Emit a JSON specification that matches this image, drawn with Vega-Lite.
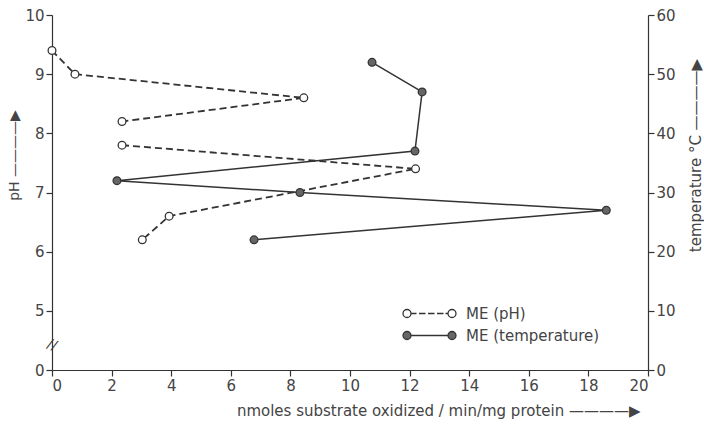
{
  "$schema": "https://vega.github.io/schema/vega-lite/v6.json",
  "width": 596,
  "height": 355,
  "autosize": {"type": "none"},
  "padding": {"left": 52, "top": 15, "right": 56, "bottom": 59},
  "background": "white",
  "config": {
    "view": {"stroke": null},
    "font": "DejaVu Sans",
    "axis": {
      "grid": false,
      "domainColor": "#333",
      "tickColor": "#333",
      "labelColor": "#444",
      "titleColor": "#444",
      "labelFontSize": 15,
      "titleFontSize": 14,
      "titleFontWeight": "normal",
      "tickSize": 6,
      "domainWidth": 1.2,
      "tickWidth": 1.2
    },
    "legend": {
      "orient": "none",
      "legendX": 370,
      "legendY": 291,
      "symbolSize": 100,
      "labelOffset": 29,
      "labelFontSize": 15,
      "labelColor": "#444",
      "symbolStrokeWidth": 1.3,
      "rowPadding": 6
    }
  },
  "datasets": {
    "ph": [
      {"x": 0, "ph": 9.4, "seg": "a"},
      {"x": 0.77, "ph": 9.0, "seg": "a"},
      {"x": 8.45, "ph": 8.6, "seg": "a"},
      {"x": 2.35, "ph": 8.2, "seg": "a"},
      {"x": 2.35, "ph": 7.8, "seg": "b"},
      {"x": 12.2, "ph": 7.4, "seg": "b"},
      {"x": 3.93, "ph": 6.6, "seg": "b"},
      {"x": 3.03, "ph": 6.2, "seg": "b"}
    ],
    "temp": [
      {"x": 10.74, "t": 52},
      {"x": 12.42, "t": 47},
      {"x": 12.18, "t": 37},
      {"x": 2.18, "t": 32},
      {"x": 8.32, "t": 30},
      {"x": 18.6, "t": 27},
      {"x": 6.78, "t": 22}
    ]
  },
  "encoding": {
    "x": {
      "field": "x",
      "type": "quantitative",
      "scale": {"domain": [0, 20], "nice": false},
      "axis": {
        "values": [0, 2, 4, 6, 8, 10, 12, 14, 16, 18, 20],
        "title": "nmoles substrate oxidized / min/mg protein   ————▶",
        "titleFontSize": 15,
        "titleX": 588,
        "titleAlign": "right",
        "titleAnchor": "end",
        "titlePadding": 10
      }
    }
  },
  "layer": [
    {
      "data": {"name": "ph"},
      "encoding": {
        "y": {
          "field": "ph",
          "type": "quantitative",
          "scale": {"domain": [4, 10], "nice": false, "zero": false},
          "axis": {
            "values": [4, 5, 6, 7, 8, 9, 10],
            "labelExpr": "datum.value == 4 ? '0' : datum.label",
            "title": "pH  ————▶",
            "titleY": 140,
            "titlePadding": 3
          }
        }
      },
      "layer": [
        {
          "mark": {"type": "line", "strokeDash": [7, 4], "strokeWidth": 1.8, "color": "#333"},
          "encoding": {
            "detail": {"field": "seg"},
            "order": {"field": "ph", "sort": "descending"}
          }
        },
        {
          "mark": {"type": "point", "filled": true, "fill": "white", "stroke": "#333", "strokeWidth": 1.3, "size": 60, "opacity": 1}
        },
        {
          "data": {"values": [{"x": 0, "ph": 4.42, "label": "//"}]},
          "mark": {"type": "text", "fontSize": 14, "color": "#333", "angle": 20},
          "encoding": {"text": {"field": "label"}}
        }
      ]
    },
    {
      "data": {"name": "temp"},
      "encoding": {
        "y": {
          "field": "t",
          "type": "quantitative",
          "scale": {"domain": [0, 60], "nice": false},
          "axis": {
            "orient": "right",
            "values": [0, 10, 20, 30, 40, 50, 60],
            "title": "temperature °C  ————▶",
            "titleFontSize": 15,
            "titleAngle": -90,
            "titleY": 140,
            "titlePadding": 28
          }
        }
      },
      "layer": [
        {
          "mark": {"type": "line", "strokeWidth": 1.5, "color": "#333"},
          "encoding": {"order": {"field": "t", "sort": "descending"}}
        },
        {
          "mark": {"type": "point", "filled": true, "fill": "#666", "stroke": "#333", "strokeWidth": 1.3, "size": 60, "opacity": 1}
        },
        {
          "transform": [{"filter": "datum.x < -100"}],
          "mark": {"type": "point", "strokeWidth": 1.3, "opacity": 1},
          "encoding": {
            "shape": {
              "field": "series",
              "type": "nominal",
              "scale": {
                "domain": ["ME (pH)", "ME (temperature)"],
                "range": [
                  "M -5.3 0 A 0.8 0.8 0 1 1 -3.7 0 A 0.8 0.8 0 1 1 -5.3 0 Z M -3.7 0 L -2.6 0 M -2.1 0 L -0.8 0 M -0.3 0 L 1.0 0 M 1.5 0 L 2.8 0 M 3.2 0 L 3.7 0 M 3.7 0 A 0.8 0.8 0 1 1 5.3 0 A 0.8 0.8 0 1 1 3.7 0 Z",
                  "M -5.3 0 A 0.8 0.8 0 1 1 -3.7 0 A 0.8 0.8 0 1 1 -5.3 0 Z M -3.7 0 L 3.7 0 M 3.7 0 A 0.8 0.8 0 1 1 5.3 0 A 0.8 0.8 0 1 1 3.7 0 Z"
                ]
              },
              "legend": {"title": null}
            },
            "fill": {
              "field": "series",
              "type": "nominal",
              "scale": {"domain": ["ME (pH)", "ME (temperature)"], "range": ["white", "#666"]},
              "legend": {"title": null}
            },
            "stroke": {
              "field": "series",
              "type": "nominal",
              "scale": {"domain": ["ME (pH)", "ME (temperature)"], "range": ["#333", "#333"]},
              "legend": {"title": null}
            }
          }
        }
      ]
    }
  ],
  "resolve": {"scale": {"y": "independent"}}
}
